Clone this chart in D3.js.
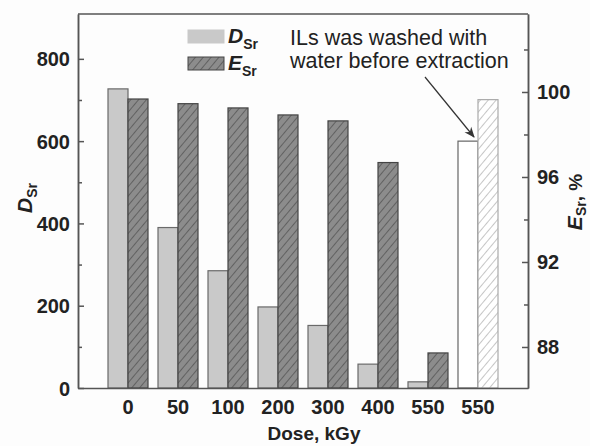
<!DOCTYPE html>
<html>
<head>
<meta charset="utf-8">
<script src="https://cdn.jsdelivr.net/npm/d3@7"></script>
<style>
  body { margin: 0; background: #fdfdfd; }
  text { font-family: "Liberation Sans", Arial, sans-serif; fill: #222; }
</style>
</head>
<body>
<div id="chart"></div>
<script>
// dose groups (the last 550 is the washed IL sample)
const doseLabels = ["0", "50", "100", "200", "300", "400", "550", "550"];
const dSr = [727, 390, 285, 197, 152, 58, 15, 600];
const eSr = [99.67, 99.45, 99.25, 98.92, 98.64, 96.68, 87.72, 99.64];
const washedIndex = 7;

const leftTicks = [0, 200, 400, 600, 800];
const leftMinor = [100, 300, 500, 700];
const rightTicks = [88, 92, 96, 100];
const rightMinor = [90, 94, 98, 102];

const W = 590, H = 446;
const margin = { top: 14, right: 62, bottom: 58, left: 78 };
const width = W - margin.left - margin.right;
const height = H - margin.top - margin.bottom;

const svg = d3.select("#chart").append("svg")
  .attr("width", W)
  .attr("height", H);

svg.append("rect").attr("width", W).attr("height", H).attr("fill", "#fdfdfd");

const defs = svg.append("defs");
function hatch(id, bg, line) {
  const p = defs.append("pattern")
    .attr("id", id)
    .attr("patternUnits", "userSpaceOnUse")
    .attr("width", 6).attr("height", 6)
    .attr("patternTransform", "rotate(40)");
  p.append("rect").attr("width", 6).attr("height", 6).attr("fill", bg);
  p.append("line").attr("x1", 0).attr("y1", 0).attr("x2", 0).attr("y2", 6)
    .attr("stroke", line).attr("stroke-width", 1.3);
}
hatch("hatchDark", "#8c8c8c", "#4a4a4a");
hatch("hatchLight", "#ffffff", "#a8a8a8");

defs.append("marker")
  .attr("id", "arrow")
  .attr("viewBox", "0 0 10 10")
  .attr("refX", 9).attr("refY", 5)
  .attr("markerWidth", 9).attr("markerHeight", 9)
  .attr("orient", "auto")
  .append("path").attr("d", "M0,1 L10,5 L0,9 L3,5 Z").attr("fill", "#333");

const g = svg.append("g").attr("transform", `translate(${margin.left},${margin.top})`);

const x = d3.scaleBand()
  .domain(d3.range(doseLabels.length))
  .range([0, width])
  .paddingInner(0.2)
  .paddingOuter(0.6);

const x1 = d3.scaleBand().domain(["D", "E"]).range([0, x.bandwidth()]);

const yLeft = d3.scaleLinear().domain([0, 909]).range([height, 0]);
const yRight = d3.scaleLinear().domain([86.07, 103.67]).range([height, 0]);

// bars
const groups = g.selectAll(".grp")
  .data(doseLabels.map((d, i) => i))
  .enter().append("g")
  .attr("transform", i => `translate(${x(i)},0)`);

groups.append("rect")
  .attr("x", x1("D"))
  .attr("y", i => yLeft(dSr[i]))
  .attr("width", x1.bandwidth())
  .attr("height", i => height - yLeft(dSr[i]))
  .attr("fill", i => i === washedIndex ? "#ffffff" : "#c9c9c9")
  .attr("stroke", i => i === washedIndex ? "#666" : "#6a6a6a")
  .attr("stroke-width", 1.2);

groups.append("rect")
  .attr("x", x1("E"))
  .attr("y", i => yRight(eSr[i]))
  .attr("width", x1.bandwidth())
  .attr("height", i => height - yRight(eSr[i]))
  .attr("fill", i => i === washedIndex ? "url(#hatchLight)" : "url(#hatchDark)")
  .attr("stroke", i => i === washedIndex ? "#aaa" : "#444")
  .attr("stroke-width", 1.2);

// axes
const axisColor = "#555";
const tickFont = "bold 20px 'Liberation Sans', Arial, sans-serif";

function styleAxis(sel) {
  sel.selectAll("path, line").attr("stroke", axisColor).attr("stroke-width", 1.5);
  sel.selectAll("text").style("font", tickFont).attr("fill", "#222");
}

g.append("g")
  .call(d3.axisLeft(yLeft).tickValues(leftTicks).tickSize(-6).tickPadding(8).tickSizeOuter(0))
  .call(styleAxis)
  .selectAll("text").attr("dy", "0.35em");
g.append("g")
  .call(d3.axisLeft(yLeft).tickValues(leftMinor).tickSize(-4).tickFormat("").tickSizeOuter(0))
  .call(styleAxis);

g.append("g")
  .attr("transform", `translate(${width},0)`)
  .call(d3.axisRight(yRight).tickValues(rightTicks).tickSize(-6).tickPadding(9).tickSizeOuter(0))
  .call(styleAxis);
g.append("g")
  .attr("transform", `translate(${width},0)`)
  .call(d3.axisRight(yRight).tickValues(rightMinor).tickSize(-4).tickFormat("").tickSizeOuter(0))
  .call(styleAxis);

g.append("g")
  .attr("transform", `translate(0,${height})`)
  .call(d3.axisBottom(x).tickFormat(i => doseLabels[i]).tickSize(0).tickPadding(12).tickSizeOuter(0))
  .call(styleAxis);

// top frame line
g.append("line")
  .attr("x1", 0).attr("x2", width).attr("y1", 0).attr("y2", 0)
  .attr("stroke", axisColor).attr("stroke-width", 1.5);

// axis titles
svg.append("text")
  .attr("x", 314)
  .attr("y", 440)
  .attr("text-anchor", "middle")
  .style("font", "bold 19px 'Liberation Sans', Arial, sans-serif")
  .text("Dose, kGy");

const yl = svg.append("text")
  .attr("transform", "translate(32,198) rotate(-90)")
  .attr("text-anchor", "middle")
  .style("font", "bold italic 21px 'Liberation Sans', Arial, sans-serif");
yl.append("tspan").text("D");
yl.append("tspan").attr("dy", 5).style("font", "bold 14px 'Liberation Sans', Arial, sans-serif").text("Sr");

const yr = svg.append("text")
  .attr("transform", "translate(582,202) rotate(-90)")
  .attr("text-anchor", "middle")
  .style("font", "bold italic 21px 'Liberation Sans', Arial, sans-serif");
yr.append("tspan").text("E");
yr.append("tspan").attr("dy", 4).style("font", "bold 14px 'Liberation Sans', Arial, sans-serif").text("Sr");
yr.append("tspan").attr("dy", -4).style("font", "bold 19px 'Liberation Sans', Arial, sans-serif").text(", %");

// legend
const legend = svg.append("g");
[["D", "#c9c9c9", "#c9c9c9", 30], ["E", "url(#hatchDark)", "#444", 57]].forEach(([k, fill, stroke, yy]) => {
  legend.append("rect")
    .attr("x", 188).attr("y", yy).attr("width", 36).attr("height", 13)
    .attr("fill", fill).attr("stroke", stroke).attr("stroke-width", 1);
  const t = legend.append("text")
    .attr("x", 228).attr("y", yy + 13)
    .style("font", "bold italic 21px 'Liberation Sans', Arial, sans-serif");
  t.append("tspan").text(k);
  t.append("tspan").attr("dy", 6).style("font", "bold 14px 'Liberation Sans', Arial, sans-serif").text("Sr");
});

// annotation
const note = svg.append("text")
  .style("font", "21.5px 'Liberation Sans', Arial, sans-serif");
note.append("tspan").attr("x", 290).attr("y", 45).text("ILs was washed with");
note.append("tspan").attr("x", 290).attr("y", 68).text("water before extraction");

svg.append("line")
  .attr("x1", 425).attr("y1", 77)
  .attr("x2", 474).attr("y2", 137)
  .attr("stroke", "#333").attr("stroke-width", 1.2)
  .attr("marker-end", "url(#arrow)");
</script>
</body>
</html>
